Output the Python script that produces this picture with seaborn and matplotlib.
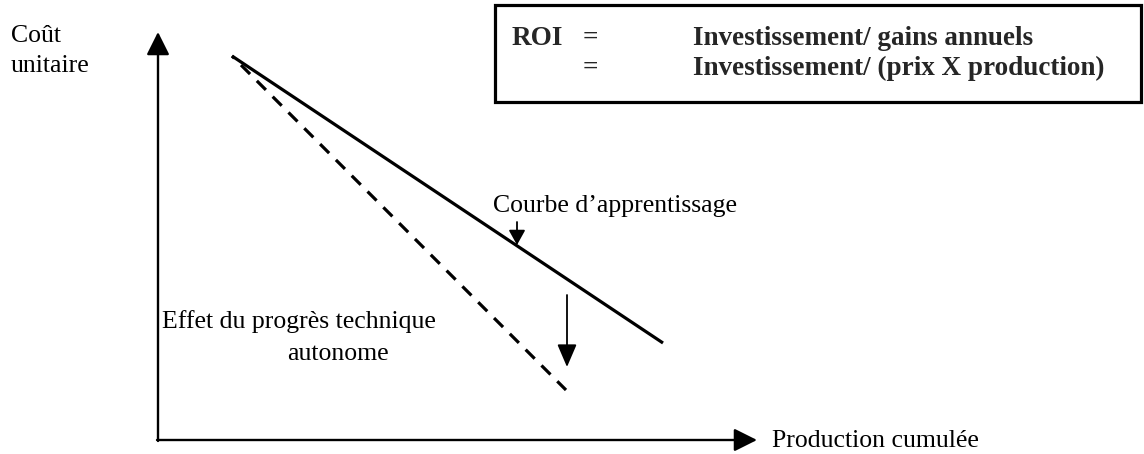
import matplotlib
matplotlib.use("Agg")
import matplotlib.pyplot as plt
import seaborn as sns
from matplotlib.patches import Rectangle

sns.set_theme(style="white")
plt.rcParams['font.family'] = ['Liberation Serif', 'DejaVu Serif']

# ---- data (diagram units: cumulated production / unit cost from origin) ----
prod_learning = [73, 504]
cost_learning = [384, 97]
prod_tech = [73, 407]
cost_tech = [384, 50]

x_axis_label = "Production cumulée"
y_axis_label = ["Coût", "unitaire"]
learning_label = "Courbe d\u2019apprentissage"
tech_label_1 = "Effet du progrès technique"
tech_label_2 = "autonome"
roi_lines = [("ROI", "=", "Investissement/ gains annuels"),
             ("", "=", "Investissement/ (prix X production)")]

W, H = 1144, 454
fig = plt.figure(figsize=(W / 100, H / 100), dpi=100)
ax = fig.add_axes([0, 0, 1, 1])
ax.set_xlim(-159, W - 159)
ax.set_ylim(440 - H, 440)
ax.axis("off")

def P(px, py):
    return (px - 159, 440 - py)

fs = 18.5
fsb = 19.5

# axes arrows
arrow_axis = dict(arrowstyle="-|>,head_length=14,head_width=7", mutation_scale=1,
                  lw=1.7, color="black", shrinkA=0, shrinkB=0)
ax.annotate("", xy=P(158, 32), xytext=P(158, 441), arrowprops=arrow_axis)
ax.annotate("", xy=P(757, 440), xytext=P(157, 440), arrowprops=arrow_axis)

# curves
sns.lineplot(x=prod_learning, y=cost_learning, ax=ax, color="black", lw=2.3,
             solid_capstyle="butt")
sns.lineplot(x=prod_tech, y=cost_tech, ax=ax, color="black", lw=2.3,
             linestyle=(3.0, (4, 3)), dash_capstyle="butt")

# labels
ax.text(*P(11, 42), y_axis_label[0], fontsize=fs, ha="left", va="baseline", color="black")
ax.text(*P(11, 72), y_axis_label[1], fontsize=fs, ha="left", va="baseline", color="black")
ax.text(*P(772, 447), x_axis_label, fontsize=fs, ha="left", va="baseline", color="black")
ax.text(*P(493, 212), learning_label, fontsize=fs, ha="left", va="baseline", color="black")
ax.text(*P(162, 328), tech_label_1, fontsize=fs, ha="left", va="baseline", color="black")
ax.text(*P(287, 360), tech_label_2, fontsize=fs, ha="left", va="baseline", color="black")

# small arrow to learning curve
ax.annotate("", xy=P(517, 245), xytext=P(517, 222),
            arrowprops=dict(arrowstyle="-|>,head_length=9,head_width=5", mutation_scale=1,
                            lw=1.3, color="black", shrinkA=0, shrinkB=0))
# down arrow
ax.annotate("", xy=P(567, 367), xytext=P(567, 295),
            arrowprops=dict(arrowstyle="-|>,head_length=14,head_width=6", mutation_scale=1,
                            lw=1.3, color="black", shrinkA=0, shrinkB=0))

# ROI box
x0, y0 = P(495, 102)
ax.add_patch(Rectangle((x0, y0), 1141 - 495, 102 - 5, fill=False, lw=2.3,
                       edgecolor="black"))
for (a, b, c), base in zip(roi_lines, [45, 75]):
    if a:
        ax.text(*P(512, base), a, fontsize=fsb, fontweight="bold", ha="left", va="baseline")
    ax.text(*P(583, base), b, fontsize=fsb, fontweight="bold", ha="left", va="baseline")
    ax.text(*P(693, base), c, fontsize=fsb, fontweight="bold", ha="left", va="baseline")

fig.savefig("out.png", dpi=100)
